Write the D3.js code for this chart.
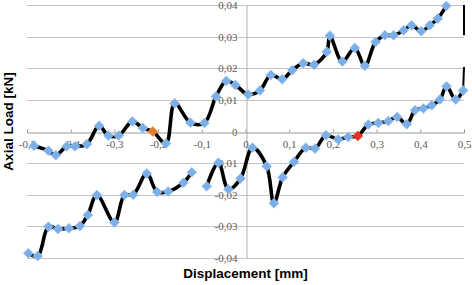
<!DOCTYPE html>
<html>
<head>
<meta charset="utf-8">
<script src="https://cdn.jsdelivr.net/npm/d3@7"></script>
<style>
  body { margin: 0; background: #fff; }
  svg { display: block; }
</style>
</head>
<body>
<svg id="chart" width="472" height="285"></svg>
<script>
// upper branch (displacement mm, load kN)
const upperX = [-0.484, -0.451, -0.434, -0.409, -0.390, -0.363, -0.335, -0.314, -0.290, -0.259,
  -0.235, -0.212, -0.182, -0.162, -0.126, -0.094, -0.0675, -0.044, -0.023, 0.006,
  0.033, 0.058, 0.084, 0.107, 0.132, 0.157, 0.186, 0.193, 0.2215, 0.250,
  0.273, 0.2975, 0.319, 0.339, 0.362, 0.380, 0.402, 0.4215, 0.440, 0.4595];
const upperY = [-0.0045, -0.0061, -0.0075, -0.0047, -0.0047, -0.0040, 0.0018, -0.0013, -0.0013, 0.0032,
  0.0011, 0.0000, -0.0038, 0.0089, 0.0028, 0.0027, 0.0111, 0.0160, 0.0147, 0.0117,
  0.0130, 0.0179, 0.0165, 0.0194, 0.0216, 0.0211, 0.0252, 0.0303, 0.0221, 0.0264,
  0.0208, 0.0283, 0.0304, 0.0304, 0.0320, 0.0336, 0.0317, 0.0336, 0.0357, 0.0397];

// lower branch, null = missing reading
const lowerX = [-0.497, -0.4755, -0.451, -0.429, -0.404, -0.379, -0.361, -0.340, -0.300, -0.277,
  -0.257, -0.226, -0.202, -0.177, -0.142, -0.123, -0.105, -0.0888, -0.062, -0.039,
  -0.0114, 0.016, 0.0485, 0.065, 0.085, 0.111, 0.138, 0.159, 0.184, 0.212,
  0.235, 0.257, 0.281, 0.304, 0.327, 0.347, 0.369, 0.388, 0.407, 0.426,
  0.445, 0.460, 0.481, 0.498];
const lowerY = [-0.0385, -0.0394, -0.0301, -0.0308, -0.0306, -0.0299, -0.0264, -0.0201, -0.0288, -0.0201,
  -0.0200, -0.0133, -0.0191, -0.0190, -0.0162, -0.0129, null, -0.0173, -0.0099, -0.0183,
  -0.0149, -0.0051, -0.0110, -0.0227, -0.0145, -0.0096, -0.0051, -0.0054, -0.0012, -0.0025,
  -0.0017, -0.0014, 0.0022, 0.0027, 0.0033, 0.0046, 0.0023, 0.0067, 0.0073, 0.0083,
  0.0101, 0.0143, 0.0101, 0.0130];

// loop ends that run off the right edge
const upperTailX = [0.5, 0.5];
const upperTailY = [0.0400, 0.0304];
const lowerTailX = [0.498, 0.5];
const lowerTailY = [0.0130, 0.0204];

// marked points
const upperMarkIndex = 11;
const lowerMarkIndex = 31;

const xTicks = [-0.5, -0.4, -0.3, -0.2, -0.1, 0, 0.1, 0.2, 0.3, 0.4, 0.5];
const yTicks = [-0.04, -0.03, -0.02, -0.01, 0, 0.01, 0.02, 0.03, 0.04];

const svg = d3.select("#chart");
const margin = { left: 27, right: 8, top: 5, bottom: 27 };
const width = +svg.attr("width");
const height = +svg.attr("height");

const x = d3.scaleLinear().domain([-0.5, 0.5]).range([margin.left, width - margin.right]);
const y = d3.scaleLinear().domain([-0.04, 0.04]).range([height - margin.bottom, margin.top]);

const comma = d => String(d).replace(".", ",");

// gridlines
svg.append("g")
  .selectAll("line")
  .data(yTicks.filter(d => d !== 0))
  .join("line")
  .attr("x1", x(-0.5))
  .attr("x2", x(0.5))
  .attr("y1", d => Math.round(y(d)) + 0.5)
  .attr("y2", d => Math.round(y(d)) + 0.5)
  .attr("stroke", "#c4c4c4")
  .attr("stroke-width", 1);

// vertical axis through x = 0
const yAxis = svg.append("g")
  .attr("transform", `translate(${Math.round(x(0)) + 0.5},0)`)
  .call(d3.axisLeft(y).tickValues(yTicks).tickSize(0).tickPadding(9).tickFormat(comma));
yAxis.select(".domain").attr("stroke", "#b0b0b0");
yAxis.selectAll("text")
  .attr("fill", "#595959")
  .style("font-family", "'Liberation Serif', serif")
  .style("font-size", "11px");

// horizontal axis through y = 0
const xAxis = svg.append("g")
  .attr("transform", `translate(0,${Math.round(y(0)) + 0.5})`)
  .call(d3.axisTop(x).tickValues(xTicks).tickSize(3).tickFormat(comma));
xAxis.select(".domain").attr("stroke", "#9a9a9a");
xAxis.selectAll(".tick line").attr("stroke", "#9a9a9a");
xAxis.selectAll("text")
  .attr("y", 12)
  .attr("dy", "0.32em")
  .attr("fill", "#595959")
  .style("font-family", "'Liberation Serif', serif")
  .style("font-size", "11px");

// build point lists
const zip = (xs, ys) => xs.map((v, i) => ({ x: v, y: ys[i] }));
const upper = zip(upperX, upperY);
const lower = zip(lowerX, lowerY);

const line = d3.line()
  .defined(d => d.y !== null)
  .x(d => x(d.x))
  .y(d => y(d.y))
  .curve(d3.curveCatmullRom.alpha(0.5));

const straight = d3.line().x(d => x(d.x)).y(d => y(d.y));

const lines = svg.append("g")
  .attr("fill", "none")
  .attr("stroke", "#000")
  .attr("stroke-width", 3.6)
  .attr("stroke-linejoin", "round");

lines.append("path").attr("d", line(upper));
lines.append("path").attr("d", line(lower));
lines.append("path").attr("stroke-width", 2).attr("d", straight(zip(upperTailX, upperTailY)));
lines.append("path").attr("stroke-width", 2).attr("d", straight(zip(lowerTailX, lowerTailY)));

// diamond markers
const diamond = d3.symbol().type(d3.symbolSquare).size(50)();

const markerColor = (series, i) => {
  if (series === "upper" && i === upperMarkIndex) return "#e07b30";
  if (series === "lower" && i === lowerMarkIndex) return "#e0321e";
  return "#7eaee6";
};

const marks = svg.append("g");
[["upper", upper], ["lower", lower]].forEach(([name, pts]) => {
  marks.selectAll(null)
    .data(pts.map((d, i) => ({ ...d, i })).filter(d => d.y !== null))
    .join("path")
    .attr("d", diamond)
    .attr("transform", d => `translate(${x(d.x)},${y(d.y)}) rotate(45)`)
    .attr("fill", d => markerColor(name, d.i))
    .attr("stroke", d => d3.color(markerColor(name, d.i)).brighter(0.4))
    .attr("stroke-width", 0.6);
});

// axis titles
svg.append("text")
  .attr("transform", `translate(13,${(y(0.04) + y(-0.04)) / 2 - 10}) rotate(-90)`)
  .attr("text-anchor", "middle")
  .style("font-family", "'Liberation Sans', Arial, sans-serif")
  .style("font-size", "13.5px")
  .style("font-weight", "bold")
  .text("Axial Load [kN]");

svg.append("text")
  .attr("x", x(0))
  .attr("y", 278)
  .attr("text-anchor", "middle")
  .style("font-family", "'Liberation Sans', Arial, sans-serif")
  .style("font-size", "13.5px")
  .style("font-weight", "bold")
  .text("Displacement [mm]");
</script>
</body>
</html>
